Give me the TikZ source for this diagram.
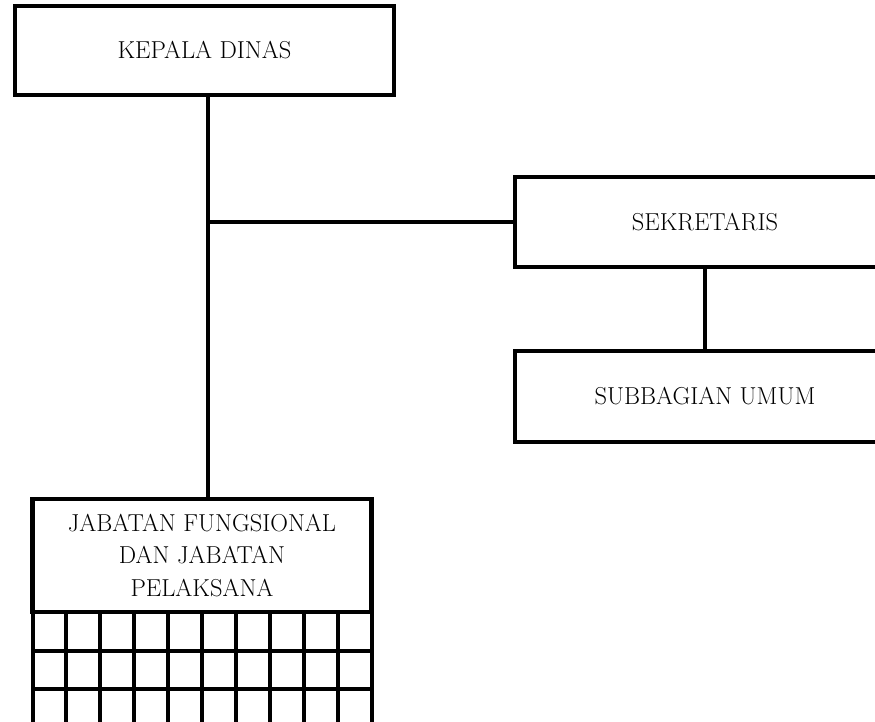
\documentclass[tikz,border=0pt]{standalone}
\usetikzlibrary{calc}
\usetikzlibrary{positioning}

\tikzset{
    orgbox/.style={rectangle, draw=black, line width=4.6pt, outer sep=0pt, text centered, align=center, font=\fontsize{24.5}{32.5}\selectfont},
    gridline/.style={line width=4pt}
}

\begin{document}
\begin{tikzpicture}[x=1pt, y=-1pt]
    \useasboundingbox (0,0) rectangle (875,722);

    \node [orgbox, minimum width=379pt, minimum height=89pt] (kadis) at (204.5,50.5) {KEPALA DINAS};
    \node [orgbox, minimum width=380pt, minimum height=90pt] (sekre) at (705,222) {SEKRETARIS};
    \node [orgbox, minimum width=380pt, minimum height=91pt, below=84pt of sekre] (subum) {SUBBAGIAN UMUM};
    \node [orgbox, minimum width=339pt, minimum height=113pt] (jabfung) at (202,555.5) {JABATAN FUNGSIONAL\\DAN JABATAN\\PELAKSANA};

    % cells under the functional positions
    \begin{scope}[shift={(jabfung.south west)}]
        \foreach \i in {0,...,10}
            \draw [gridline] (\i*33.9, 0) -- (\i*33.9, 130);
        \foreach \j in {38.5, 76.5, 114.5}
            \draw [gridline] (0, \j) -- (339, \j);
    \end{scope}

    \coordinate (branch) at ($(kadis.south)+(3,0)$);
    \draw [line width=4pt] (branch) -- (branch |- jabfung.north);
    \draw [line width=4pt] (branch |- sekre.west) -- (sekre.west);
    \draw [line width=4pt] (sekre.south) -- (subum.north);
\end{tikzpicture}
\end{document}
